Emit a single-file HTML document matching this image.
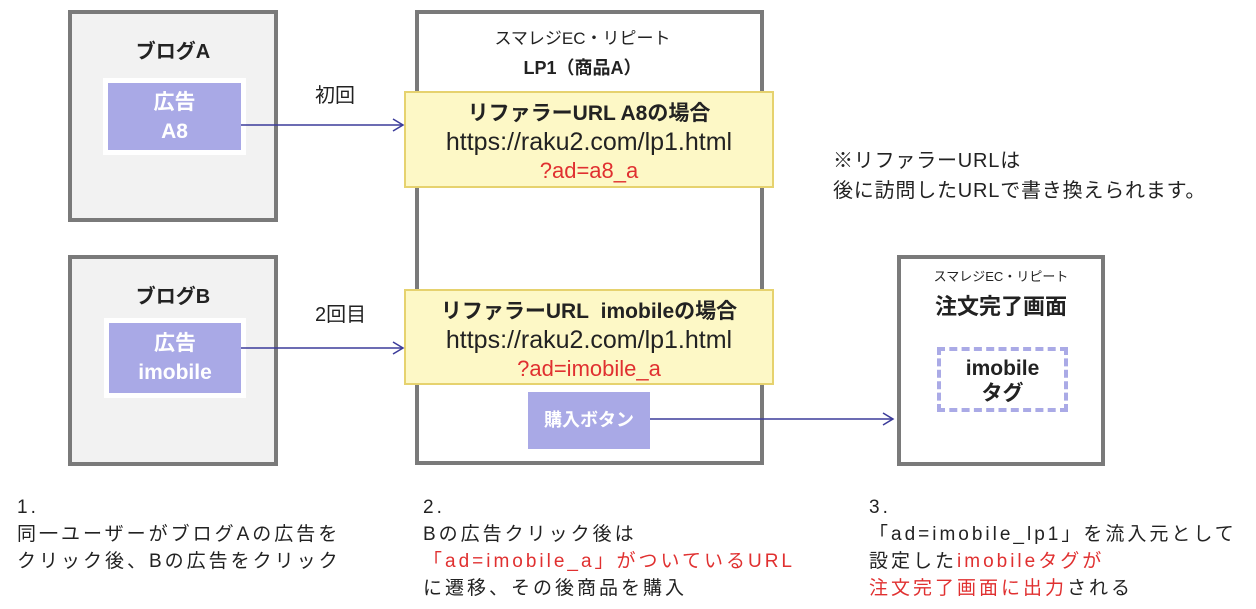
<!DOCTYPE html>
<html><head><meta charset="utf-8"><style>
body{margin:0;width:1256px;height:609px;background:#fff;position:relative;overflow:hidden;font-family:"Liberation Sans","Noto Sans CJK JP",sans-serif;color:#222}
.a{position:absolute;box-sizing:border-box}
.gbox{border:4px solid #7a7a7a}
.t{position:absolute;white-space:nowrap}
.ad{background:#a9a9e6;border:5px solid #fff;color:#fff;font-weight:bold;font-size:21px;text-align:center;line-height:29px;display:flex;flex-direction:column;justify-content:center}
.yel{background:#fdf8c6;border:2px solid #e6d26e;text-align:center;font-size:25px;line-height:28px;padding-top:5px}
.yel b{font-size:21px}
.yel .red{font-size:22px}
.red{color:#e03030}
.bt{font-size:19px;line-height:27px;letter-spacing:3px}
</style></head><body>
<div class="a gbox" style="left:68px;top:10px;width:210px;height:212px;background:#f2f2f2"></div>
<div class="t" style="left:68px;width:210px;top:35px;text-align:center;font-weight:bold;font-size:20px">ブログA</div>
<div class="a ad" style="left:103px;top:78px;width:143px;height:77px">広告<br>A8</div>

<div class="a gbox" style="left:68px;top:255px;width:210px;height:211px;background:#f2f2f2"></div>
<div class="t" style="left:68px;width:210px;top:280px;text-align:center;font-weight:bold;font-size:20px">ブログB</div>
<div class="a ad" style="left:104px;top:318px;width:142px;height:80px">広告<br>imobile</div>

<div class="a gbox" style="left:415px;top:10px;width:349px;height:455px;background:#fff"></div>
<div class="t" style="left:415px;width:335px;top:24px;text-align:center;font-size:17px">スマレジEC・リピート</div>
<div class="t" style="left:415px;width:335px;top:54px;text-align:center;font-size:18px;font-weight:bold">LP1（商品A）</div>

<div class="a yel" style="left:404px;top:91px;width:370px;height:97px"><b>リファラーURL A8の場合</b><br>https://raku2.com/lp1.html<br><span class="red">?ad=a8_a</span></div>
<div class="a yel" style="left:404px;top:289px;width:370px;height:96px"><b>リファラーURL&nbsp; imobileの場合</b><br>https://raku2.com/lp1.html<br><span class="red">?ad=imobile_a</span></div>
<div class="a" style="left:528px;top:392px;width:122px;height:57px;background:#a9a9e6;color:#fff;font-weight:bold;font-size:18px;line-height:57px;text-align:center">購入ボタン</div>

<div class="a gbox" style="left:897px;top:255px;width:208px;height:211px;background:#fff"></div>
<div class="t" style="left:897px;width:208px;top:266px;text-align:center;font-size:13px">スマレジEC・リピート</div>
<div class="t" style="left:897px;width:208px;top:289px;text-align:center;font-size:22px;font-weight:bold">注文完了画面</div>
<div class="a" style="left:937px;top:347px;width:131px;height:65px;border:4px dashed #aaaae6;text-align:center;font-weight:bold;font-size:21px;line-height:25px;padding-top:5px">imobile<br>タグ</div>

<div class="t" style="left:315px;top:79px;font-size:20px">初回</div>
<div class="t" style="left:315px;top:298px;font-size:20px">2回目</div>
<div class="t" style="left:833px;top:146px;font-size:20px;line-height:30px;letter-spacing:0.8px">※リファラーURLは<br>後に訪問したURLで書き換えられます。</div>

<svg class="a" style="left:0;top:0" width="1256" height="609">
<g stroke="#3b3b9a" stroke-width="1.5" fill="none">
<line x1="241" y1="125" x2="403" y2="125"/><polyline points="393,119 403,125 393,131"/>
<line x1="241" y1="348" x2="403" y2="348"/><polyline points="393,342 403,348 393,354"/>
<line x1="650" y1="419" x2="893" y2="419"/><polyline points="883,413 893,419 883,425"/>
</g></svg>

<div class="t bt" style="left:17px;top:494px">1.<br>同一ユーザーがブログAの広告を<br>クリック後、Bの広告をクリック</div>
<div class="t bt" style="left:423px;top:494px">2.<br>Bの広告クリック後は<br><span class="red">「ad=imobile_a」がついているURL</span><br>に遷移、その後商品を購入</div>
<div class="t bt" style="left:869px;top:494px">3.<br>「ad=imobile_lp1」を流入元として<br>設定した<span class="red">imobileタグが</span><br><span class="red">注文完了画面に出力</span>される</div>
</body></html>
